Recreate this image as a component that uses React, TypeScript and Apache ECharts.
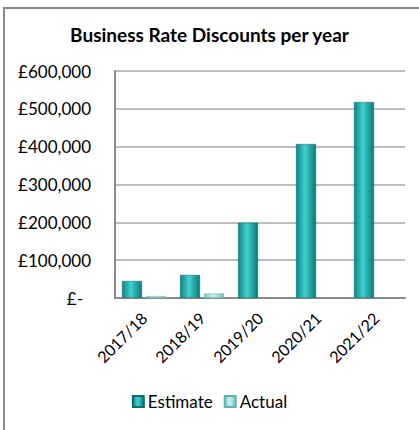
import React, { useEffect, useRef } from "react";
import * as echarts from "echarts";

const categories = ["2017/18", "2018/19", "2019/20", "2020/21", "2021/22"];
const estimateValues = [45000, 61000, 199000, 407000, 518000];
const actualValues: (number | null)[] = [5000, 12000, null, null, null];
const seriesNames = ["Estimate", "Actual"];
const titleText = "Business Rate Discounts per year";

const FONT = "Lato, 'Open Sans', sans-serif";

function fmt(v: number): string {
  if (v === 0) return "{z|£-}";
  return "£" + v.toLocaleString("en-GB");
}

export default function App() {
  const ref = useRef<HTMLDivElement>(null);
  useEffect(() => {
    if (!ref.current) return;
    const chart = echarts.init(ref.current, null, { renderer: "svg" });
    const estGrad = new echarts.graphic.LinearGradient(0, 0, 1, 0, [
      { offset: 0, color: "#0f8384" },
      { offset: 0.45, color: "#40d2d2" },
      { offset: 1, color: "#0e7677" },
    ]);
    const actGrad = new echarts.graphic.LinearGradient(0, 0, 1, 0, [
      { offset: 0, color: "#7cc9ca" },
      { offset: 0.45, color: "#c8f0f0" },
      { offset: 1, color: "#79c2c3" },
    ]);
    chart.setOption({
      animation: false,
      backgroundColor: "#ffffff",
      title: {
        text: titleText,
        left: "center",
        top: 20,
        textStyle: { fontFamily: FONT, fontWeight: "bold", fontSize: 19, color: "#000" },
      },
      graphic: [
        {
          type: "rect",
          shape: { x: 4, y: 8, width: 440, height: 450 },
          style: { fill: "none", stroke: "#8a8a8a", lineWidth: 2 },
          silent: true,
        },
      ],
      legend: {
        bottom: 15,
        left: "center",
        itemWidth: 11,
        itemHeight: 11,
        itemGap: 11,
        icon: "rect",
        textStyle: { fontFamily: FONT, fontSize: 17, color: "#000", padding: [0, 0, 0, -1] },
        data: seriesNames,
      },
      grid: { left: 115, right: 14, top: 71, bottom: 132 },
      xAxis: {
        type: "category",
        data: categories,
        axisLine: { lineStyle: { color: "#8a8a8a", width: 2 } },
        axisTick: { show: false },
        axisLabel: {
          rotate: 45,
          margin: 17,
          fontFamily: FONT,
          fontSize: 16,
          color: "#000",
          interval: 0,
        },
      },
      yAxis: {
        type: "value",
        min: 0,
        max: 600000,
        interval: 100000,
        axisLine: { show: true, lineStyle: { color: "#8a8a8a", width: 2 } },
        axisTick: { show: false },
        splitLine: { lineStyle: { color: "#a6a6a6", width: 1.5 } },
        axisLabel: {
          margin: 24,
          fontFamily: FONT,
          fontSize: 17,
          color: "#000",
          formatter: fmt,
          rich: { z: { fontFamily: FONT, fontSize: 17, color: "#000", padding: [0, 8, 0, 0] } },
        },
      },
      series: [
        {
          name: seriesNames[0],
          type: "bar",
          data: estimateValues,
          barWidth: 20,
          barGap: "20%",
          itemStyle: { color: estGrad, borderColor: "#0b6e6f", borderWidth: 0.5 },
        },
        {
          name: seriesNames[1],
          type: "bar",
          data: actualValues,
          barWidth: 20,
          itemStyle: { color: actGrad, borderColor: "#5fb0b1", borderWidth: 0.5 },
        },
      ],
    });
    return () => chart.dispose();
  }, []);
  return (
    <div
      ref={ref}
      style={{ position: "absolute", left: 0, top: 0, width: 419, height: 430 }}
    />
  );
}
